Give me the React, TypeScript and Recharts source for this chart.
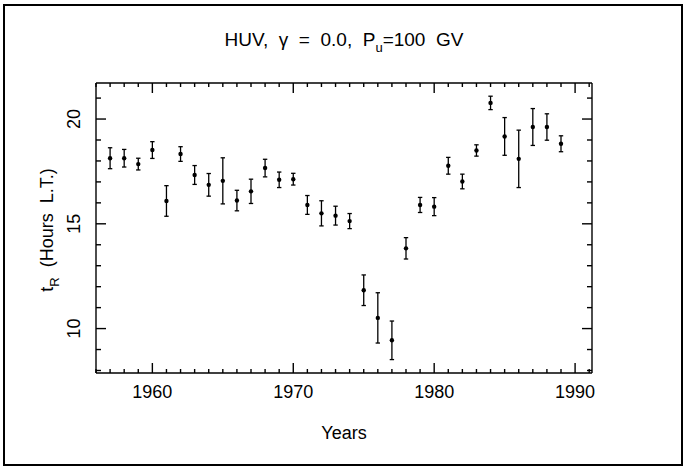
import React from 'react';
import { ScatterChart, Scatter, XAxis, YAxis, ErrorBar } from 'recharts';

const years = [1957, 1958, 1959, 1960, 1961, 1962, 1963, 1964, 1965, 1966, 1967, 1968, 1969, 1970, 1971, 1972, 1973, 1974, 1975, 1976, 1977, 1978, 1979, 1980, 1981, 1982, 1983, 1984, 1985, 1986, 1987, 1988, 1989];
const tR = [18.13, 18.13, 17.85, 18.52, 16.09, 18.33, 17.33, 16.86, 17.05, 16.11, 16.55, 17.66, 17.1, 17.13, 15.9, 15.5, 15.39, 15.13, 11.83, 10.51, 9.44, 13.83, 15.9, 15.82, 17.77, 17.02, 18.5, 20.77, 19.17, 18.1, 19.62, 19.62, 18.82];
const tRErr = [0.5, 0.42, 0.28, 0.4, 0.73, 0.35, 0.45, 0.54, 1.1, 0.49, 0.58, 0.42, 0.37, 0.28, 0.45, 0.6, 0.45, 0.36, 0.73, 1.2, 0.92, 0.51, 0.36, 0.43, 0.4, 0.35, 0.27, 0.32, 0.9, 1.37, 0.88, 0.63, 0.38];

const xTicks = [1956, 1957, 1958, 1959, 1960, 1961, 1962, 1963, 1964, 1965, 1966, 1967, 1968, 1969, 1970, 1971, 1972, 1973, 1974, 1975, 1976, 1977, 1978, 1979, 1980, 1981, 1982, 1983, 1984, 1985, 1986, 1987, 1988, 1989, 1990, 1991];
const xLabelTicks = [1960, 1970, 1980, 1990];
const yTicks = [8, 9, 10, 11, 12, 13, 14, 15, 16, 17, 18, 19, 20, 21];
const yLabelTicks = [10, 15, 20];

const xDomain = [1956, 1991.2];
const yDomain = [7.88, 21.72];

const data = years.map((y, i) => ({ year: y, tR: tR[i], err: tRErr[i] }));

const FONT = '"Liberation Sans", Arial, sans-serif';
const SW = 1.4;

const BottomTick = (props: any) => {
  const { x, y, payload } = props;
  const major = xLabelTicks.includes(payload.value);
  return (
    <g>
      <line x1={x} x2={x} y1={y} y2={y - (major ? 10 : 4)} stroke="#000" strokeWidth={SW} />
      {major && (
        <text x={x} y={y + 25} textAnchor="middle" fontSize={18} fontFamily={FONT} fill="#000">
          {payload.value}
        </text>
      )}
    </g>
  );
};

const TopTick = (props: any) => {
  const { x, y, payload } = props;
  const major = xLabelTicks.includes(payload.value);
  return <line x1={x} x2={x} y1={y} y2={y + (major ? 10 : 4)} stroke="#000" strokeWidth={SW} />;
};

const LeftTick = (props: any) => {
  const { x, y, payload } = props;
  const major = yLabelTicks.includes(payload.value);
  return (
    <g>
      <line x1={x} x2={x + (major ? 10 : 5)} y1={y} y2={y} stroke="#000" strokeWidth={SW} />
      {major && (
        <g transform={`translate(80, ${y}) rotate(-90)`}>
          <text x={0} y={0} textAnchor="middle" fontSize={18} fontFamily={FONT} fill="#000">
            {payload.value}
          </text>
        </g>
      )}
    </g>
  );
};

const RightTick = (props: any) => {
  const { x, y, payload } = props;
  const major = yLabelTicks.includes(payload.value);
  return <line x1={x} x2={x - (major ? 10 : 5)} y1={y} y2={y} stroke="#000" strokeWidth={SW} />;
};

const Dot = (props: any) => {
  const { cx, cy } = props;
  return <circle cx={cx} cy={cy} r={2.2} fill="#000" />;
};

const Empty = () => <g />;

export default function App() {
  return (
    <div style={{ position: 'absolute', left: 0, top: 0, width: 692, height: 470, background: '#fff', fontFamily: FONT }}>
      <div
        style={{
          position: 'absolute',
          left: 3,
          top: 4,
          width: 676,
          height: 458,
          border: '2px solid #000',
        }}
      />
      <ScatterChart
        width={692}
        height={470}
        margin={{ top: 82, right: 99, bottom: 0, left: 0 }}
        style={{ position: 'absolute', left: 0, top: 0 }}
      >
        <XAxis
          xAxisId="b"
          dataKey="year"
          type="number"
          domain={xDomain}
          ticks={xTicks}
          interval={0}
          orientation="bottom"
          height={97}
          tickSize={0}
          tickMargin={0}
          tick={<BottomTick />}
          axisLine={{ stroke: '#000', strokeWidth: SW }}
          allowDataOverflow
        />
        <XAxis
          xAxisId="t"
          dataKey="year"
          type="number"
          domain={xDomain}
          ticks={xTicks}
          interval={0}
          orientation="top"
          height={1}
          tickSize={0}
          tickMargin={0}
          tick={<TopTick />}
          axisLine={{ stroke: '#000', strokeWidth: SW }}
          allowDataOverflow
        />
        <YAxis
          yAxisId="l"
          dataKey="tR"
          type="number"
          domain={yDomain}
          ticks={yTicks}
          interval={0}
          orientation="left"
          width={96}
          tickSize={0}
          tickMargin={0}
          tick={<LeftTick />}
          axisLine={{ stroke: '#000', strokeWidth: SW }}
          allowDataOverflow
        />
        <YAxis
          yAxisId="r"
          dataKey="tR"
          type="number"
          domain={yDomain}
          ticks={yTicks}
          interval={0}
          orientation="right"
          width={1}
          tickSize={0}
          tickMargin={0}
          tick={<RightTick />}
          axisLine={{ stroke: '#000', strokeWidth: SW }}
          allowDataOverflow
        />
        <Scatter
          data={data}
          xAxisId="t"
          yAxisId="r"
          dataKey="tR"
          shape={<Empty />}
          isAnimationActive={false}
          legendType="none"
        />
        <Scatter
          data={data}
          xAxisId="b"
          yAxisId="l"
          dataKey="tR"
          fill="#000"
          shape={<Dot />}
          isAnimationActive={false}
        >
          <ErrorBar dataKey="err" direction="y" width={2.2} stroke="#000" strokeWidth={1.3} isAnimationActive={false} />
        </Scatter>
      </ScatterChart>
      <div
        style={{
          position: 'absolute',
          left: 0,
          width: 688,
          top: 29,
          textAlign: 'center',
          fontSize: 19,
          whiteSpace: 'pre',
          color: '#000',
        }}
      >
        HUV,  γ  =  0.0,  P<sub style={{ fontSize: 13, verticalAlign: -6, lineHeight: 0 }}>u</sub>=100  GV
      </div>
      <div
        style={{
          position: 'absolute',
          left: 96,
          width: 496,
          top: 423,
          textAlign: 'center',
          fontSize: 18,
          color: '#000',
        }}
      >
        Years
      </div>
      <div
        style={{
          position: 'absolute',
          left: 47,
          top: 230,
          transform: 'translate(-50%, -50%) rotate(-90deg)',
          fontSize: 18,
          whiteSpace: 'pre',
          color: '#000',
        }}
      >
        t<sub style={{ fontSize: 13, verticalAlign: -6, lineHeight: 0 }}>R</sub>  (Hours  L.T.)
      </div>
    </div>
  );
}
